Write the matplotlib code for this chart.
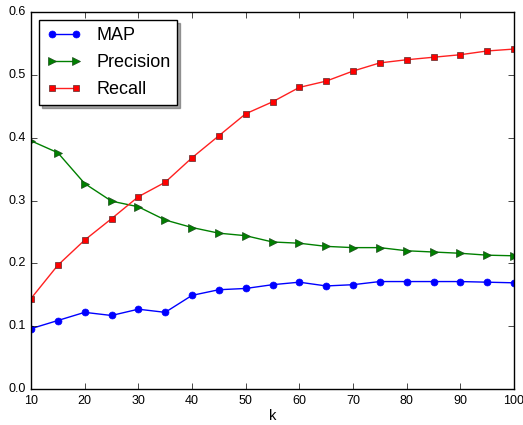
import matplotlib
matplotlib.use("Agg")
import matplotlib.pyplot as plt

plt.style.use('classic')
plt.rcParams['font.family'] = ['Liberation Sans', 'DejaVu Sans']

k = [10, 15, 20, 25, 30, 35, 40, 45, 50, 55, 60, 65, 70, 75, 80, 85, 90, 95, 100]
map_vals = [0.096, 0.109, 0.122, 0.117, 0.127, 0.122, 0.149, 0.158, 0.160, 0.166, 0.170,
            0.164, 0.166, 0.171, 0.171, 0.171, 0.171, 0.170, 0.169]
precision = [0.395, 0.376, 0.327, 0.299, 0.290, 0.269, 0.257, 0.248, 0.244, 0.234, 0.232,
             0.227, 0.225, 0.225, 0.220, 0.218, 0.216, 0.213, 0.212]
recall = [0.144, 0.197, 0.237, 0.271, 0.306, 0.329, 0.368, 0.403, 0.438, 0.457, 0.480,
          0.490, 0.506, 0.519, 0.524, 0.528, 0.532, 0.538, 0.541]

fig = plt.figure(figsize=(5.23, 4.25), dpi=100)
fig.patch.set_facecolor('white')
ax = fig.add_axes([31/523, 36/425, 483/523, 377/425])
ax.plot(k, map_vals, 'b-o', label='MAP', markersize=5, markeredgecolor='b', linewidth=1.0)
ax.plot(k, precision, 'g->', label='Precision', markersize=5.5, markeredgecolor='#1a4a1a', linewidth=1.0)
ax.plot(k, recall, '-s', color='#ff2020', markerfacecolor='r', label='Recall', markersize=5,
        markeredgecolor='#5a2a2a', linewidth=1.0)

ax.set_xlim(10, 100)
ax.set_ylim(0.0, 0.6)
ax.set_xticks(range(10, 101, 10))
ax.set_yticks([0.0, 0.1, 0.2, 0.3, 0.4, 0.5, 0.6])
ax.tick_params(labelsize=9)
ax.set_xlabel('k', fontsize=10.5, labelpad=2)

leg = ax.legend(loc='upper left', shadow=True, fancybox=False, numpoints=2,
                fontsize=13, borderaxespad=0.45, handlelength=1.95, labelspacing=0.55)

fig.savefig('out.png', dpi=100, facecolor='white')
